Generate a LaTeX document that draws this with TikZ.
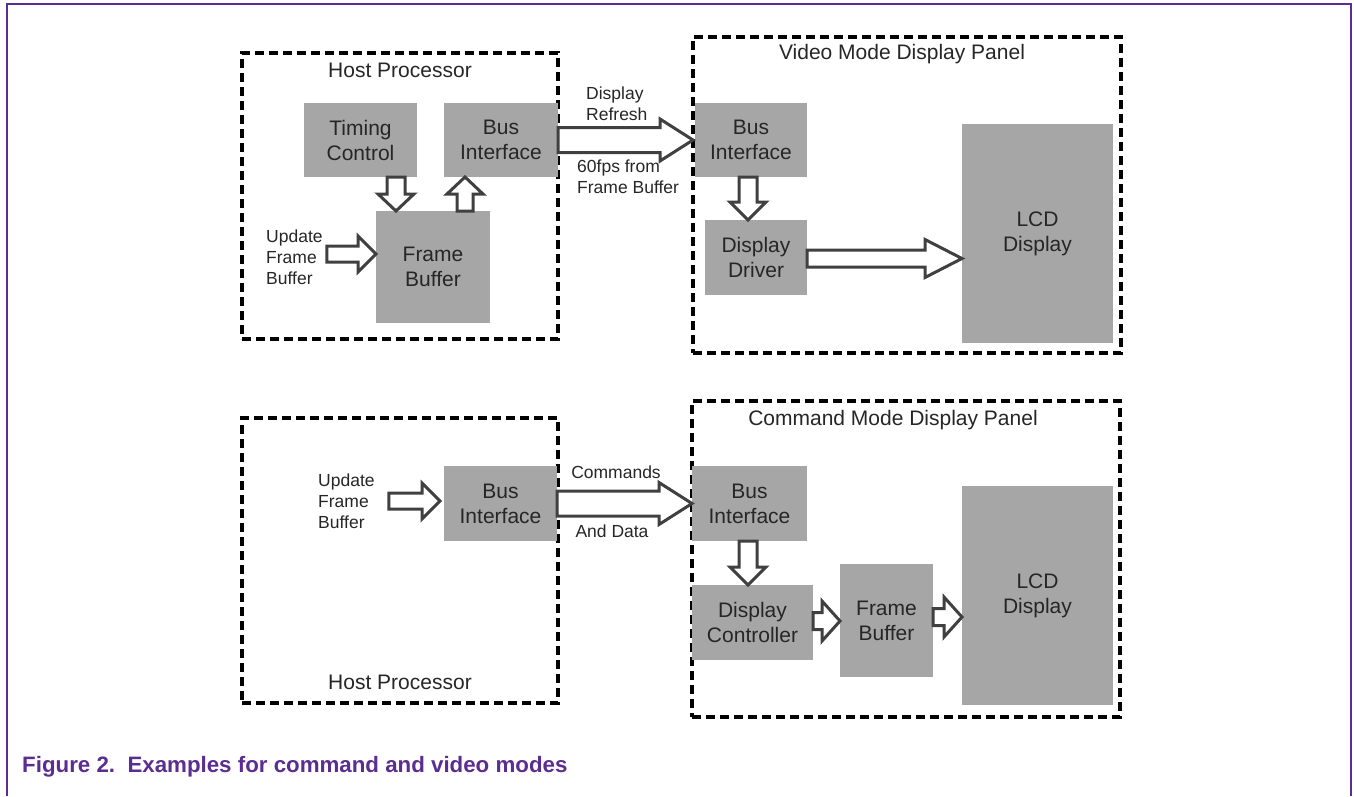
\documentclass[tikz,border=0pt]{standalone}
\usepackage{fontspec}
\setmainfont{Liberation Sans}
\usetikzlibrary{calc,positioning}

\definecolor{framepurple}{RGB}{92,45,145}
\definecolor{blockgray}{RGB}{166,166,166}
\definecolor{textgray}{RGB}{38,38,38}
\definecolor{arrowgray}{RGB}{64,64,64}

% hollow block arrow: from, to, shaft half width, head half width, head length
\newcommand{\hollowarrow}[5]{%
  \coordinate (hb) at ($(#2)!#5!(#1)$);
  \draw[hollow arrow] ($(#1)!#3!90:(#2)$) -- ($(hb)!#3!90:(#2)$) -- ($(hb)!#4!90:(#2)$) -- (#2)
    -- ($(hb)!#4!-90:(#2)$) -- ($(hb)!#3!-90:(#2)$) -- ($(#1)!#3!-90:(#2)$) -- cycle;
}

\begin{document}
\begin{tikzpicture}[x=1pt,y=-1pt,
  block node/.style={rectangle,fill=blockgray,outer sep=0pt,inner sep=0pt,align=center,
    text=textgray,font=\fontsize{21}{25}\selectfont},
  panel node/.style={rectangle,draw=black,line width=3.2pt,dash pattern=on 9pt off 5pt,outer sep=0pt},
  title node/.style={text=textgray,inner sep=0pt,font=\fontsize{21}{25}\selectfont},
  small node/.style={text=textgray,inner sep=0pt,align=left,font=\fontsize{17.5}{21}\selectfont},
  hollow arrow/.style={draw=arrowgray,fill=white,line width=3pt,line join=miter},
  caption node/.style={text=framepurple,inner sep=0pt,font=\fontsize{22.3}{26}\selectfont\bfseries}]

 \useasboundingbox (0,0) rectangle (1354,796);
 \draw[framepurple,line width=2.5pt] (7,796) -- (7,4) -- (1351,4) -- (1351,796);

 % video mode
 \node[panel node,minimum width=316,minimum height=286] (hostv) at (400,196) {};
 \node[title node] (hostvtitle) at (400,70) {Host Processor};
 \node[block node,minimum width=113,minimum height=74] (timing) at (360.5,140) {Timing\\Control};
 \node[block node,minimum width=114,minimum height=74] (busv) at (501,140) {Bus\\Interface};
 \node[block node,minimum width=114,minimum height=112] (fbv) at (433,267) {Frame\\Buffer};
 \node[small node,anchor=west] (updv) at (266,257) {Update\\Frame\\Buffer};

 \node[panel node,minimum width=428,minimum height=316] (videopanel) at (907,195) {};
 \node[title node] (videotitle) at (902,54) {Video Mode Display Panel};
 \node[block node,minimum width=112,minimum height=74] (busp) at (751,140) {Bus\\Interface};
 \node[block node,minimum width=102,minimum height=75] (driver) at (756,257.5) {Display\\Driver};
 \node[block node,minimum width=151,minimum height=219] (lcdv) at (1037.5,233.5) {LCD\\Display};

 \node[small node,anchor=west] (refresh) at (586,103.5) {Display\\Refresh};
 \node[small node,anchor=west] (fps) at (577,176.5) {60fps from\\Frame Buffer};

 \coordinate (tc) at ([xshift=-21]timing.south east);
 \coordinate (tcend) at (tc |- fbv.north);
 \coordinate (fu) at ([xshift=-25]fbv.north east);
 \coordinate (fuend) at (fu |- busv.south);
 \coordinate (ua) at ([xshift=4,yshift=3]updv.east);
 \coordinate (uaend) at (ua -| fbv.west);
 \coordinate (bd) at ([xshift=-3]busp.south);
 \coordinate (bdend) at (bd |- driver.north);
 \coordinate (dd) at ([yshift=-1]driver.east);
 \coordinate (ddend) at (dd -| lcdv.west);
 \coordinate (bp) at ([xshift=-2]busp.west);

 \hollowarrow{tc}{tcend}{9pt}{18pt}{17pt}
 \hollowarrow{fu}{fuend}{8pt}{18pt}{17pt}
 \hollowarrow{ua}{uaend}{8pt}{18pt}{18pt}
 \hollowarrow{busv.east}{bp}{12.5pt}{21pt}{33pt}
 \hollowarrow{bd}{bdend}{9pt}{18pt}{18pt}
 \hollowarrow{dd}{ddend}{8.5pt}{19pt}{37pt}

 % command mode
 \node[panel node,minimum width=316,minimum height=285] (hostc) at (400,560.5) {};
 \node[title node] (hostctitle) at (400,682) {Host Processor};
 \node[block node,minimum width=113,minimum height=75] (busc) at (500.5,503.5) {Bus\\Interface};
 \node[small node,anchor=west] (updc) at (318,501) {Update\\Frame\\Buffer};

 \node[panel node,minimum width=428,minimum height=316] (cmdpanel) at (906,559) {};
 \node[title node] (cmdtitle) at (893,420) {Command Mode Display Panel};
 \node[block node,minimum width=115,minimum height=75] (buscp) at (749.5,503.5) {Bus\\Interface};
 \node[block node,minimum width=121,minimum height=75] (dctrl) at (752.5,622.5) {Display\\Controller};
 \node[block node,minimum width=93,minimum height=113] (fbc) at (886.5,620.5) {Frame\\Buffer};
 \node[block node,minimum width=151,minimum height=219] (lcdc) at (1037.5,595.5) {LCD\\Display};

 \node[small node] (commands) at (616,472) {Commands};
 \node[small node] (anddata) at (612,531) {And Data};

 \coordinate (uc) at ([xshift=14]updc.east);
 \coordinate (ucend) at ([xshift=-4]uc -| busc.west);
 \coordinate (cd) at ([xshift=-1.5]buscp.south);
 \coordinate (cdend) at (cd |- dctrl.north);
 \coordinate (cf) at ([yshift=1.5]dctrl.east);
 \coordinate (cfend) at (cf -| fbc.west);
 \coordinate (fl) at ([yshift=3.5]fbc.east);
 \coordinate (flend) at (fl -| lcdc.west);

 \hollowarrow{uc}{ucend}{8pt}{18pt}{18pt}
 \hollowarrow{busc.east}{buscp.west}{12.5pt}{21pt}{33pt}
 \hollowarrow{cd}{cdend}{9pt}{18pt}{18pt}
 \hollowarrow{cf}{cfend}{8.5pt}{20pt}{18pt}
 \hollowarrow{fl}{flend}{8.5pt}{20pt}{18pt}

 \node[caption node,anchor=west] (caption) at (22,767) {Figure 2.\ \ Examples for command and video modes};
\end{tikzpicture}
\end{document}
